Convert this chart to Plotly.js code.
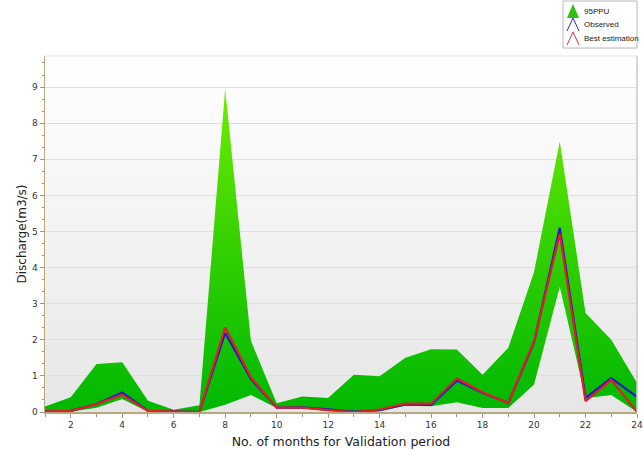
<!DOCTYPE html>
<html><head><meta charset="utf-8">
<script src="https://cdn.plot.ly/plotly-3.0.1.min.js"></script>
<style>html,body{margin:0;padding:0;background:#fff}#chart{width:643px;height:450px}</style>
</head><body><div id="chart"></div>
<script>
var months = [1,2,3,4,5,6,7,8,9,10,11,12,13,14,15,16,17,18,19,20,21,22,23,24];
var upper95 = [0.15,0.41,1.33,1.38,0.31,0.06,0.19,8.95,1.97,0.24,0.43,0.39,1.03,0.99,1.5,1.74,1.73,1.03,1.78,3.88,7.49,2.74,2.0,0.8];
var lower95 = [0.0,0.01,0.12,0.36,0.01,0.0,0.0,0.2,0.47,0.11,0.1,0.03,0.0,0.02,0.17,0.16,0.27,0.11,0.11,0.76,3.47,0.38,0.47,0.0];
var observed = [0.02,0.03,0.22,0.54,0.03,0.02,0.0,2.19,0.92,0.12,0.13,0.07,0.01,0.05,0.21,0.2,0.87,0.53,0.25,1.93,5.1,0.39,0.94,0.42];
var bestEst = [0.02,0.03,0.22,0.48,0.03,0.02,0.0,2.34,0.96,0.12,0.12,0.05,0.0,0.07,0.23,0.23,0.93,0.55,0.25,1.96,4.93,0.3,0.89,0.0];
var xTickVals = [2,4,6,8,10,12,14,16,18,20,22,24];
var yTickVals = [0,1,2,3,4,5,6,7,8,9];

var traces = [
  {x: months, y: lower95, mode:'lines', line:{width:0, color:'rgba(0,0,0,0)'}, hoverinfo:'skip', showlegend:false},
  {x: months, y: upper95, mode:'lines', line:{width:0, color:'rgba(0,0,0,0)'}, fill:'tonexty',
   fillgradient:{type:'vertical', start:0, stop:9, colorscale:[[0,'#00b800'],[0.5,'#33d000'],[1,'#70ee00']]},
   name:'95PPU', showlegend:false},
  {x: months, y: observed, mode:'lines', line:{width:2.2, color:'#1c1cc8'}, name:'Observed', showlegend:false},
  {x: months, y: bestEst, mode:'lines', line:{width:2.2, color:'#e01e28'}, name:'Best estimation', showlegend:false}
];

var bgSvg = "<svg xmlns='http://www.w3.org/2000/svg' width='10' height='100' preserveAspectRatio='none'><defs><linearGradient id='g' x1='0' y1='0' x2='0' y2='1'><stop offset='0' stop-color='#ffffff'/><stop offset='1' stop-color='#e6e6e6'/></linearGradient></defs><rect width='10' height='100' fill='url(#g)'/></svg>";

var lf = {family:'Liberation Sans, Arial, sans-serif', size:8, color:'#222'};
function px(x){return (x-45)/592;}
function py(y){return (412-y)/356;}

var layout = {
  width:643, height:450,
  margin:{l:45, r:6, t:56, b:38},
  paper_bgcolor:'#ffffff',
  plot_bgcolor:'rgba(0,0,0,0)',
  font:{family:'DejaVu Sans, Verdana, sans-serif', size:9, color:'#333'},
  xaxis:{range:[1,24], tickvals:xTickVals, ticks:'outside', ticklen:4, tickcolor:'#9a9a80',
    minor:{dtick:1, ticks:'outside', ticklen:3, tickcolor:'#9a9a80'},
    showgrid:false, zeroline:false, showline:true, linecolor:'#b8a880', linewidth:1.5,
    tickfont:{size:9, color:'#333'},
    title:{text:'No. of months for Validation period', font:{size:12.5, color:'#222'}, standoff:8}},
  yaxis:{range:[0,9.86], tickvals:yTickVals, ticks:'outside', ticklen:4, tickcolor:'#9a9a80',
    minor:{dtick:1/3, ticks:'outside', ticklen:2, tickcolor:'#9a9a80', showgrid:false},
    showgrid:true, gridcolor:'#e4e0d0', gridwidth:1, zeroline:false, showline:true, linecolor:'#b8a880', linewidth:1.5,
    tickfont:{size:9, color:'#333'},
    title:{text:'Discharge(m3/s)', font:{size:12, color:'#222'}, standoff:3}},
  images:[{source:'data:image/svg+xml;charset=utf-8,'+encodeURIComponent(bgSvg), xref:'paper', yref:'paper',
    x:0, y:1, sizex:1, sizey:1, sizing:'stretch', layer:'below', xanchor:'left', yanchor:'top'}],
  shapes:[
    {type:'line', xref:'paper', yref:'paper', x0:0, x1:1, y0:1, y1:1, line:{color:'#e8e4cc', width:1}},
    {type:'line', xref:'paper', yref:'paper', x0:1, x1:1, y0:0, y1:1, line:{color:'#c8c8c8', width:1.5}},
    {type:'rect', xref:'paper', yref:'paper', x0:px(563), x1:px(637), y0:py(48), y1:py(1),
     line:{color:'#b8b8b8', width:1}, fillcolor:'#ffffff'},
    {type:'path', xref:'paper', yref:'paper', path:'M '+px(567)+' '+py(18)+' L '+px(573)+' '+py(4)+' L '+px(579)+' '+py(18)+' Z',
     line:{width:0}, fillcolor:'#2fbf10'},
    {type:'path', xref:'paper', yref:'paper', path:'M '+px(567)+' '+py(31)+' L '+px(573)+' '+py(18)+' L '+px(579)+' '+py(31),
     line:{width:1, color:'#2828d0'}},
    {type:'path', xref:'paper', yref:'paper', path:'M '+px(567)+' '+py(45)+' L '+px(573)+' '+py(32)+' L '+px(579)+' '+py(45),
     line:{width:1, color:'#e03040'}}
  ],
  annotations:[
    {xref:'paper', yref:'paper', x:px(583), y:py(11), text:'95PPU', showarrow:false, font:lf, xanchor:'left', yanchor:'middle', borderpad:0},
    {xref:'paper', yref:'paper', x:px(583), y:py(24), text:'Observed', showarrow:false, font:lf, xanchor:'left', yanchor:'middle', borderpad:0},
    {xref:'paper', yref:'paper', x:px(583), y:py(38), text:'Best estimation', showarrow:false, font:lf, xanchor:'left', yanchor:'middle', borderpad:0}
  ]
};
Plotly.newPlot('chart', traces, layout, {displayModeBar:false, staticPlot:true});
</script></body></html>
